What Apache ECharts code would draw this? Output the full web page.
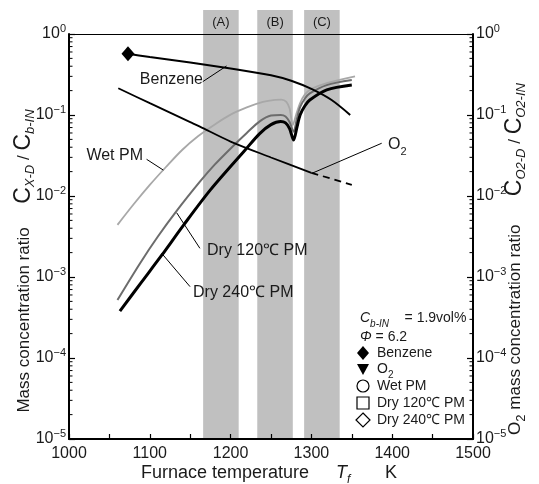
<!DOCTYPE html>
<html>
<head>
<meta charset="utf-8">
<script src="https://cdn.jsdelivr.net/npm/echarts@6/dist/echarts.min.js"></script>
<style>
  html, body { margin: 0; padding: 0; background: #fff; }
  #chart { width: 539px; height: 484px; }
</style>
</head>
<body>
<div id="chart"></div>
<script>
// Furnace temperature (K) vs mass concentration ratio
const benzeneT = [1068, 1073, 1100, 1150, 1200, 1250, 1275, 1300, 1325, 1348];
const benzeneV = [0.58, 0.57, 0.52, 0.445, 0.375, 0.31, 0.265, 0.21, 0.153, 0.10];

const o2T = [1061, 1100, 1150, 1162, 1200, 1250, 1300];
const o2V = [0.214, 0.140, 0.0817, 0.0718, 0.047, 0.0299, 0.0193];
const o2DashT = [1300, 1325, 1350];
const o2DashV = [0.0193, 0.0163, 0.0137];

const wetT = [1060, 1080, 1100, 1120, 1140, 1160, 1180, 1200, 1220, 1240, 1255, 1263, 1269, 1273, 1277, 1281, 1286, 1292, 1300, 1320, 1354];
const wetV = [0.0044, 0.0079, 0.0137, 0.0228, 0.037, 0.055, 0.076, 0.101, 0.124, 0.145, 0.154, 0.155, 0.145, 0.12, 0.075, 0.1, 0.14, 0.18, 0.21, 0.25, 0.30];

const dry120T = [1060, 1088, 1110, 1133, 1162, 1180, 1201, 1220, 1236, 1250, 1262, 1268, 1273, 1278, 1282, 1286, 1292, 1298, 1319, 1350];
const dry120V = [0.00052, 0.00148, 0.00316, 0.0065, 0.015, 0.0242, 0.0395, 0.060, 0.0835, 0.0985, 0.1, 0.096, 0.082, 0.062, 0.09, 0.125, 0.16, 0.185, 0.234, 0.27];

const dry240T = [1063, 1090, 1115, 1142, 1175, 1218, 1236, 1250, 1262, 1268, 1273, 1278, 1282, 1286, 1292, 1298, 1319, 1350];
const dry240V = [0.00038, 0.00087, 0.00187, 0.0044, 0.0119, 0.037, 0.059, 0.076, 0.083, 0.08, 0.068, 0.049, 0.07, 0.1, 0.13, 0.153, 0.204, 0.234];

// Shaded regions (A), (B), (C)
const bandRanges = [[1166, 1210], [1233, 1277], [1291, 1335]];
const bandNames = ['(A)', '(B)', '(C)'];

// Minor ticks of the log axes
const minorVals = [];
[1e-5, 1e-4, 1e-3, 1e-2, 1e-1].forEach(d => {
  [2, 3, 4, 5, 6, 7, 8, 9].forEach(m => minorVals.push(+(m * d).toPrecision(3)));
});

// Leader lines: [from curve, to label], in data units
const leaders = [
  [[1165.5, 0.258], [1195, 0.403]],
  [[1096, 0.0284], [1116.7, 0.0209]],
  [[1133.3, 0.0062], [1162, 0.00226]],
  [[1114.7, 0.00196], [1149.8, 0.00076]],
  [[1300.4, 0.019], [1387, 0.0448]]
];

const FONT = '"Liberation Sans", Arial, sans-serif';
const INK = '#1a1a1a';

const zip = (xs, ys) => xs.map((x, i) => [x, ys[i]]);

// Power-of-ten tick labels
const powLabel = v => {
  const e = Math.round(Math.log10(v));
  return '{b|10}{s|' + (e === 0 ? '0' : '\u2212' + (-e)) + '}';
};
const powRich = {
  b: { fontSize: 16, fontFamily: FONT, color: INK, lineHeight: 22 },
  s: { fontSize: 11, fontFamily: FONT, color: INK, lineHeight: 11, verticalAlign: 'top' }
};

const logAxis = (position) => ({
  type: 'log',
  logBase: 10,
  min: 1e-5,
  max: 1,
  position: position,
  axisLine: { show: true, lineStyle: { color: '#000', width: 2 } },
  axisTick: { show: true, inside: true, length: 6, lineStyle: { color: '#000', width: 1.2 } },
  axisLabel: { formatter: powLabel, rich: powRich, margin: 3 },
  splitLine: { show: false }
});

const chart = echarts.init(document.getElementById('chart'));

const option = {
  animation: false,
  backgroundColor: '#fff',
  grid: { left: 69, right: 66, top: 34, bottom: 45 },
  xAxis: [
    {
      type: 'value',
      min: 1000,
      max: 1500,
      interval: 50,
      position: 'bottom',
      axisLine: { lineStyle: { color: '#000', width: 2 } },
      axisTick: { inside: true, length: 5, lineStyle: { color: '#000', width: 1.2 } },
      axisLabel: {
        formatter: v => (v % 100 === 0 ? String(v) : ''),
        fontSize: 16, fontFamily: FONT, color: INK, margin: 7,
        showMinLabel: true, showMaxLabel: true
      },
      splitLine: { show: false }
    },
    {
      type: 'value',
      min: 1000,
      max: 1500,
      position: 'top',
      axisLine: { lineStyle: { color: '#000', width: 1 } },
      axisTick: { show: false },
      axisLabel: { show: false },
      splitLine: { show: false }
    }
  ],
  yAxis: [logAxis('left'), logAxis('right')],
  series: [
    {
      // gray bands with their labels
      type: 'custom',
      clip: false,
      silent: true,
      z: 0,
      data: bandRanges.map(r => [r[0], r[1]]),
      encode: { x: [0, 1] },
      renderItem: (params, api) => {
        const lo = api.coord([api.value(0), 1e-5]);
        const hi = api.coord([api.value(1), 1]);
        const top = 10;
        return {
          type: 'group',
          children: [
            { type: 'rect', shape: { x: lo[0], y: top, width: hi[0] - lo[0], height: lo[1] - top }, style: { fill: '#c0c0c0' } },
            {
              type: 'text',
              style: {
                text: bandNames[params.dataIndex], x: (lo[0] + hi[0]) / 2, y: 22,
                align: 'center', verticalAlign: 'middle',
                font: '13px ' + FONT, fill: INK
              }
            }
          ]
        };
      }
    },
    {
      // minor ticks on left and right axes
      type: 'custom',
      clip: false,
      silent: true,
      z: 5,
      data: minorVals.map(v => [1000, v]),
      renderItem: (params, api) => {
        const p = api.coord([1000, api.value(1)]);
        const cs = params.coordSys;
        const st = { stroke: '#000', lineWidth: 1 };
        return {
          type: 'group',
          children: [
            { type: 'line', shape: { x1: cs.x, y1: p[1], x2: cs.x + 3.5, y2: p[1] }, style: st },
            { type: 'line', shape: { x1: cs.x + cs.width, y1: p[1], x2: cs.x + cs.width - 3.5, y2: p[1] }, style: st }
          ]
        };
      }
    },
    {
      name: 'Wet PM',
      type: 'line',
      data: zip(wetT, wetV),
      symbol: 'none',
      smooth: 0.3,
      lineStyle: { color: '#a8a8a8', width: 1.8 },
      z: 3
    },
    {
      name: 'Dry 120℃ PM',
      type: 'line',
      data: zip(dry120T, dry120V),
      symbol: 'none',
      smooth: 0.3,
      lineStyle: { color: '#6c6c6c', width: 2 },
      z: 4
    },
    {
      name: 'Dry 240℃ PM',
      type: 'line',
      data: zip(dry240T, dry240V),
      symbol: 'none',
      smooth: 0.3,
      lineStyle: { color: '#000', width: 3 },
      z: 5
    },
    {
      name: 'Benzene',
      type: 'line',
      data: zip(benzeneT, benzeneV).map((d, i) =>
        i === 1 ? { value: d, symbol: 'diamond', symbolSize: [13, 15], itemStyle: { color: '#000' } } : d
      ),
      symbol: 'none',
      showSymbol: true,
      smooth: 0.3,
      lineStyle: { color: '#000', width: 2 },
      z: 6,
      markLine: {
        silent: true,
        symbol: 'none',
        label: { show: false },
        lineStyle: { color: '#000', width: 1, type: 'solid' },
        data: leaders.map(l => [{ coord: l[0] }, { coord: l[1] }])
      }
    },
    {
      name: 'O2',
      type: 'line',
      data: zip(o2T, o2V),
      symbol: 'none',
      smooth: 0.3,
      lineStyle: { color: '#000', width: 1.8 },
      z: 6
    },
    {
      name: 'O2 dashed',
      type: 'line',
      data: zip(o2DashT, o2DashV),
      symbol: 'none',
      lineStyle: { color: '#000', width: 1.8, type: [7, 5] },
      z: 6
    }
  ]
};

chart.setOption(option);

// Text annotations
const sty = (size, extra) => Object.assign({ fontSize: size, fontFamily: FONT, fill: INK }, extra || {});
const label = (x, y, text, rich, align, rot) => ({
  type: 'text',
  x: x,
  y: y,
  rotation: rot || 0,
  z: 20,
  style: {
    text: text,
    rich: rich,
    align: align || 'left',
    verticalAlign: 'middle',
    fontSize: 16,
    fontFamily: FONT,
    fill: INK
  }
});

const subRich = (size, subSize, bigC) => ({
  n: sty(size, { lineHeight: size + 8 }),
  i: sty(size, { fontStyle: 'italic', lineHeight: size + 8 }),
  C: sty(bigC || size, { lineHeight: size + 8 }),
  sub: sty(subSize, { fontStyle: 'italic', lineHeight: subSize + 1, verticalAlign: 'bottom' }),
  sb: sty(subSize, { lineHeight: subSize + 1, verticalAlign: 'bottom' })
});

const r16 = subRich(16, 11);
const r18 = subRich(18, 12);
const rTitle = subRich(17, 13, 23);
const r14 = subRich(14, 10);

const graphics = [
  // curve labels
  label(203, 80, '{n|Benzene}', r16, 'right'),
  label(143, 156, '{n|Wet PM}', r16, 'right'),
  label(207, 251, '{n|Dry 120℃ PM}', r16, 'left'),
  label(193, 293, '{n|Dry 240℃ PM}', r16, 'left'),
  label(388, 145, '{n|O}{sb|2}', r16, 'left'),
  // axis titles
  label(141, 473, '{n|Furnace temperature}', r18, 'left'),
  label(336, 473, '{i|T}{sub|f}', r18, 'left'),
  label(385, 473, '{n|K}', r18, 'left'),
  label(24, 261, '{n|Mass concentration ratio     }{C|C}{sub|X-D}{n| / }{C|C}{sub|b-IN}', rTitle, 'center', Math.PI / 2),
  label(515, 259, '{n|O}{sb|2}{n| mass concentration ratio      }{C|C}{sub|O2-D}{n| / }{C|C}{sub|O2-IN}', rTitle, 'center', Math.PI / 2),
  // conditions
  label(360, 318, '{i|C}{sub|b-IN}{n|    = 1.9vol%}', r14, 'left'),
  label(360, 337, '{i|Φ}{n| = 6.2}', r14, 'left'),
  label(377, 353, '{n|Benzene}', r14, 'left'),
  label(377, 369, '{n|O}{sb|2}', r14, 'left'),
  label(377, 386, '{n|Wet PM}', r14, 'left'),
  label(377, 403, '{n|Dry 120℃ PM}', r14, 'left'),
  label(377, 420, '{n|Dry 240℃ PM}', r14, 'left'),
  // legend symbols
  { type: 'polygon', z: 20, shape: { points: [[363, 346], [369, 353], [363, 360], [357, 353]] }, style: { fill: '#000' } },
  { type: 'polygon', z: 20, shape: { points: [[357, 364], [369, 364], [363, 375]] }, style: { fill: '#000' } },
  { type: 'circle', z: 20, shape: { cx: 363, cy: 386, r: 6 }, style: { fill: '#fff', stroke: '#000', lineWidth: 1.2 } },
  { type: 'rect', z: 20, shape: { x: 357, y: 397, width: 12, height: 12 }, style: { fill: '#fff', stroke: '#000', lineWidth: 1.2 } },
  { type: 'polygon', z: 20, shape: { points: [[363, 413], [370, 420], [363, 427], [356, 420]] }, style: { fill: '#fff', stroke: '#000', lineWidth: 1.2 } }
];

chart.setOption({ graphic: graphics });
</script>
</body>
</html>
